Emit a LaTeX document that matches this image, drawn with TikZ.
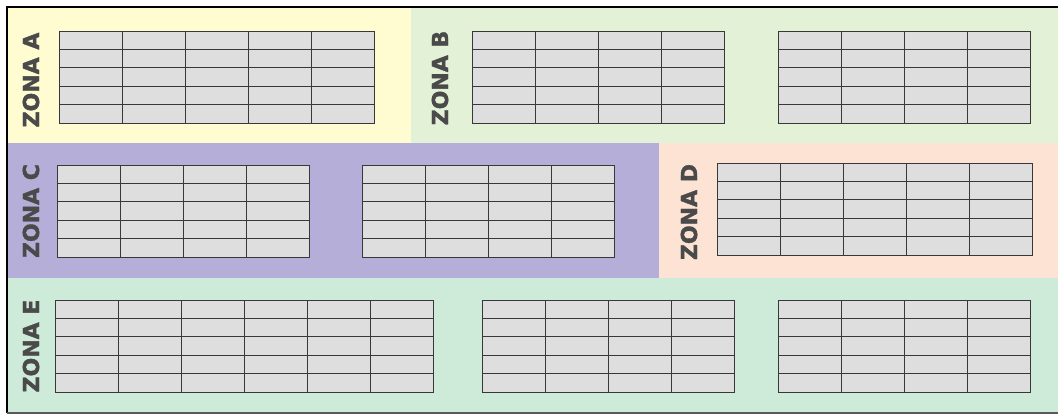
\documentclass[tikz,border=0pt]{standalone}
\usepackage{fontspec}
\setmainfont{Liberation Sans}
\newfontfamily\rotfont{DejaVu Sans}[BoldFeatures={FakeBold=1.6}]
\usetikzlibrary{positioning}

\definecolor{zonaA}{RGB}{255,252,210}
\definecolor{zonaB}{RGB}{227,242,214}
\definecolor{zonaC}{RGB}{181,174,216}
\definecolor{zonaD}{RGB}{252,227,212}
\definecolor{zonaE}{RGB}{206,235,218}
\definecolor{rotulo}{RGB}{74,74,74}

\begin{document}
\begin{tikzpicture}[
  x=0.75pt, y=-0.75pt,
  celda/.style = {draw=black!78, fill=black!13, line width=0.75pt,
                  minimum width=47.25pt, minimum height=13.8pt, inner sep=0pt},
  rot/.style   = {rotate=90, text=rotulo, inner sep=0pt,
                  font=\rotfont\fontsize{16.5}{16.5}\selectfont\bfseries},
]

\newcommand{\tabla}[4]{%  #1 = prefijo, #2 = x, #3 = y, #4 = columnas
  \foreach \c in {1,...,#4} {
    \foreach \f in {1,...,5} {
      \node[celda] (#1-\c-\f) at ({#2+(\c-0.5)*63}, {#3+(\f-0.5)*18.4}) {};
    }
  }%
}

\useasboundingbox (0,0) rectangle (1058,415);

% ======================= fondos de las zonas ===========================
\fill[zonaA] (8,8)     rectangle (411,143);
\fill[zonaB] (411,8)   rectangle (1058,143);
\fill[zonaC] (8,143)   rectangle (659,278);
\fill[zonaD] (659,143) rectangle (1058,278);
\fill[zonaE] (8,278)   rectangle (1058,412);

% marco
\draw[line width=1.5pt] (1058,7) -- (7,7) -- (7,413);
\draw[line width=1pt, draw=black!65] (7,413) -- (1058,413);

% ======================= zona A ========================================
\node[rot] (lblA) at (31,80) {ZONA A};
\tabla{a}{59}{31}{5}

% ======================= zona B ========================================
\node[rot] (lblB) at (440,78) {ZONA B};
\tabla{ba}{472}{31}{4}
\tabla{bb}{778}{31}{4}

% ======================= zona C ========================================
\node[rot] (lblC) at (31,211) {ZONA C};
\tabla{ca}{57}{165}{4}
\tabla{cb}{362}{165}{4}

% ======================= zona D ========================================
\node[rot] (lblD) at (689,212) {ZONA D};
\tabla{d}{717}{163}{5}

% ======================= zona E ========================================
\node[rot] (lblE) at (31,346) {ZONA E};
\tabla{ea}{55}{300}{6}
\tabla{eb}{482}{300}{4}
\tabla{ec}{778}{300}{4}

\end{tikzpicture}
\end{document}
